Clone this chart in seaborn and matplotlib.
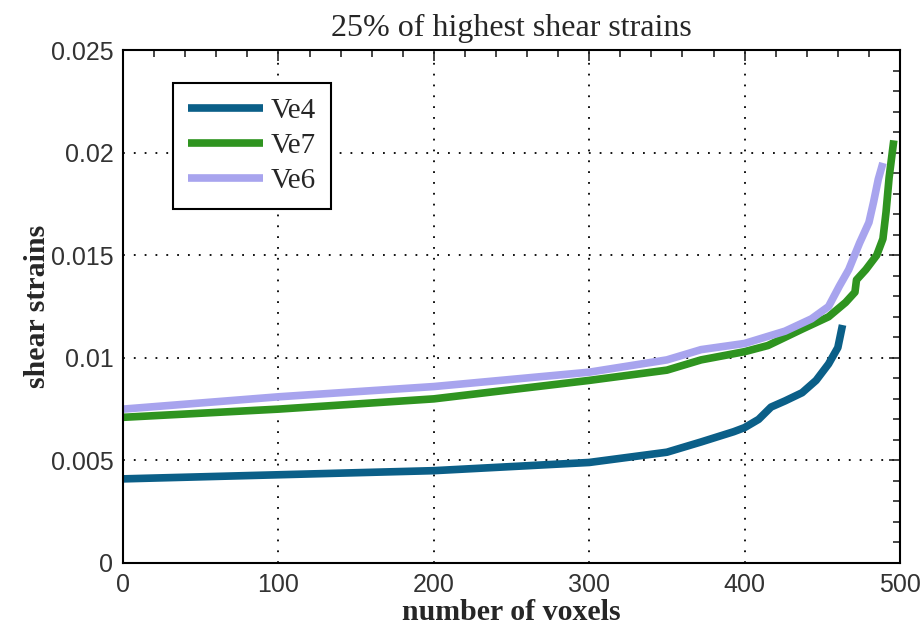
import pandas as pd
import seaborn as sns
import matplotlib.pyplot as plt
import matplotlib.ticker as ticker

# valores (voxels ordenados x deformacao)
ve4_x = [0, 100, 200, 300, 350, 372, 393, 400, 409, 417, 426, 437, 446, 454, 460, 463]
ve4_y = [0.0041, 0.0043, 0.0045, 0.0049, 0.0054, 0.0059, 0.0064, 0.0066, 0.0070, 0.0076, 0.0079, 0.0083, 0.0089, 0.0097, 0.0105, 0.0116]

ve7_x = [0, 100, 200, 300, 350, 372, 400, 415, 437, 454, 465, 471, 472, 478, 485, 489, 491, 493, 496]
ve7_y = [0.0071, 0.0075, 0.0080, 0.0089, 0.0094, 0.0099, 0.0103, 0.0106, 0.0114, 0.0120, 0.0127, 0.0132, 0.0138, 0.0143, 0.0150, 0.0158, 0.0171, 0.0188, 0.0206]

ve6_x = [0, 100, 200, 300, 350, 372, 400, 426, 443, 454, 461, 467, 474, 480, 483, 486, 489]
ve6_y = [0.0075, 0.0081, 0.0086, 0.0093, 0.0099, 0.0104, 0.0107, 0.0113, 0.0119, 0.0125, 0.0135, 0.0143, 0.0156, 0.0166, 0.0176, 0.0187, 0.0195]

series = ['Ve4', 'Ve7', 'Ve6']
cores = ['#0b5f88', '#2f9420', '#a8a4ee']

df = pd.concat([
    pd.DataFrame({'voxels': ve4_x, 'strain': ve4_y, 'serie': 'Ve4'}),
    pd.DataFrame({'voxels': ve7_x, 'strain': ve7_y, 'serie': 'Ve7'}),
    pd.DataFrame({'voxels': ve6_x, 'strain': ve6_y, 'serie': 'Ve6'}),
])

sns.set_style('white')
plt.rcParams['font.family'] = ['Liberation Serif', 'DejaVu Serif']

fig = plt.figure(figsize=(9.23, 6.34), dpi=100)
ax = fig.add_axes([0.1333, 0.112, 0.8418, 0.809])

sns.lineplot(data=df, x='voxels', y='strain', hue='serie', hue_order=series,
             palette=cores, linewidth=5.5, sort=False, ax=ax)
for ln in ax.get_lines():
    ln.set_solid_capstyle('butt')
    ln.set_solid_joinstyle('round')

ax.set_xlim(0, 500)
ax.set_ylim(0, 0.025)
ax.xaxis.set_major_locator(ticker.MultipleLocator(100))
ax.xaxis.set_minor_locator(ticker.MultipleLocator(20))
ax.yaxis.set_major_locator(ticker.MultipleLocator(0.005))
ax.yaxis.set_minor_locator(ticker.MultipleLocator(0.001))
ax.yaxis.set_major_formatter(ticker.FuncFormatter(lambda v, p: '0' if v == 0 else f'{v:g}'))

ax.tick_params(which='both', direction='in', top=True, right=True, width=1.2)
ax.tick_params(which='major', length=8, labelsize=18, pad=7,
               labelfontfamily='Liberation Sans', labelcolor='#333333')
ax.tick_params(which='minor', length=5)

for s in ax.spines.values():
    s.set_linewidth(1.5)
    s.set_color('black')

ax.grid(True, which='major', linestyle=(0, (1, 5)), color='black', linewidth=1.3)

ax.set_title('25% of highest shear strains', fontsize=23, pad=10)
ax.set_xlabel('number of voxels', fontsize=21.5, fontweight='bold', labelpad=2)
ax.set_ylabel('shear strains', fontsize=21.5, fontweight='bold', labelpad=0)

leg = ax.legend(loc='upper left', bbox_to_anchor=(0.0644, 0.9357), fontsize=21,
                handlelength=2.6, handletextpad=0.25, borderpad=0.5,
                labelspacing=0.3, borderaxespad=0, fancybox=False, framealpha=1)
leg.get_frame().set_edgecolor('black')
leg.get_frame().set_linewidth(1.5)
for h in leg.get_lines():
    h.set_linewidth(5.5)
    h.set_solid_capstyle('butt')

plt.savefig('out.png', dpi=100)
